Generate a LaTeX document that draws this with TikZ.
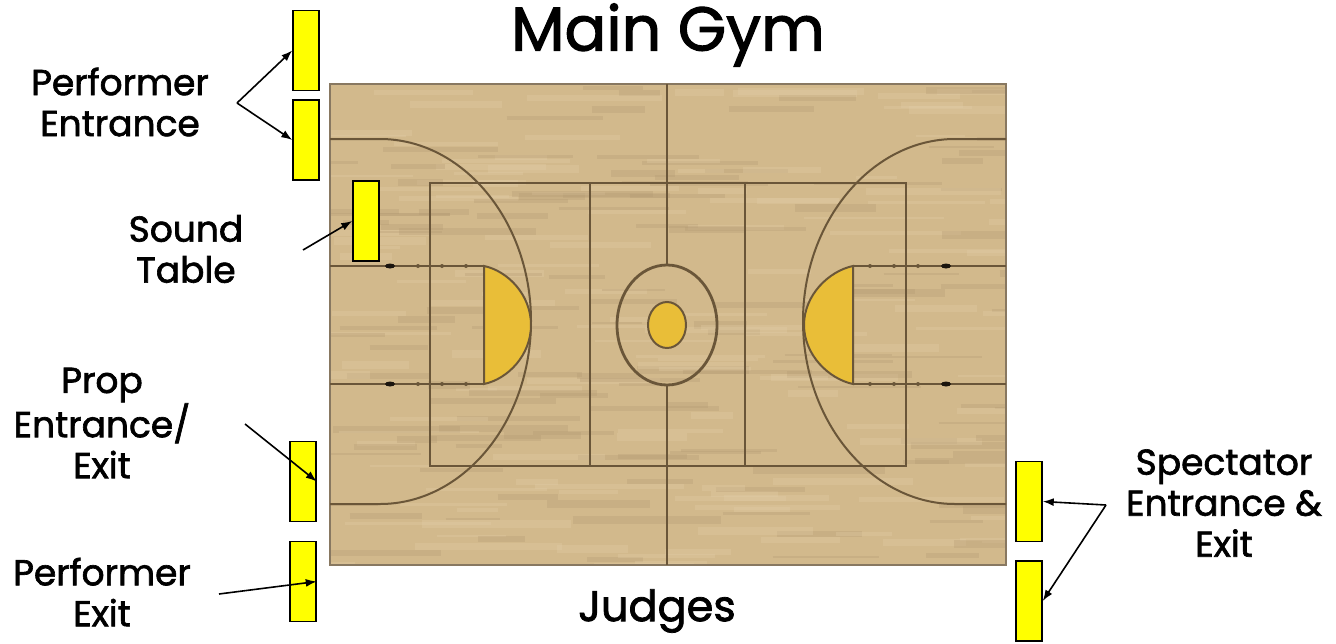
\documentclass[tikz,border=0pt]{standalone}
\usepackage{xcolor}
\usepackage{fontspec}
\setmainfont[FakeBold=1.8]{Poppins}
\usepackage{tikz}
\usetikzlibrary{positioning, arrows.meta, calc}

\definecolor{wood}{HTML}{D2B98C}
\definecolor{woodlight}{HTML}{E3CFA8}
\definecolor{wooddark}{HTML}{B39A72}
\definecolor{courtline}{HTML}{6A5639}
\definecolor{paint}{HTML}{E9BE38}
\definecolor{doorfill}{RGB}{255,255,0}

\begin{document}
\begin{tikzpicture}[>={Latex[length=11pt,width=8pt]}, x=1pt, y=-1pt,
  stagebox/.style={draw=black, line width=1.5pt, fill=doorfill, minimum width=26pt, minimum height=80pt, inner sep=0pt},
  lbl/.style={align=center, font=\fontsize{36}{41}\selectfont},
  court/.style={draw=courtline, line width=2pt},
  pointer/.style={->, line width=1.6pt, black}]
  \useasboundingbox (0,0) rectangle (1336,643);

  % floor
  \node[draw=courtline!80, line width=1.6pt, fill=wood, minimum width=676pt, minimum height=481pt, inner sep=0pt] (floor) at (668,324.5) {};
  \begin{scope}
    \clip (330,84) rectangle (1006,565);
    \pgfmathsetseed{11}
    \foreach \i in {1,...,260} {
      \pgfmathsetmacro{\sx}{300+rnd*700}
      \pgfmathsetmacro{\sy}{84+rnd*481}
      \pgfmathsetmacro{\sl}{40+rnd*110}
      \pgfmathsetmacro{\sw}{2+rnd*6}
      \pgfmathparse{rnd<0.5 ? "woodlight" : "wooddark"}
      \edef\scol{\pgfmathresult}
      \draw[\scol, line width=\sw pt, opacity=0.3] (\sx,\sy) -- ++(\sl,0);
    }
  \end{scope}
  \draw[draw=courtline!80, line width=1.6pt] (330,84) rectangle (1006,565);

  % court lines
  \draw[court] (667,84) -- (667,266) (667,384) -- (667,565);
  \draw[court] (430,183) rectangle (906,466);
  \draw[court] (590,183) -- (590,466);
  \draw[court] (745,183) -- (745,466);
  \draw[court] (330,139) -- (380,139) .. controls (463,139) and (531,221) .. (531,321) .. controls (531,422) and (463,504) .. (380,504) -- (330,504);
  \draw[court] (1006,139) -- (955,139) .. controls (872,139) and (803,221) .. (803,321) .. controls (803,422) and (872,504) .. (955,504) -- (1006,504);
  \draw[court] (330,266) -- (484,266) (330,384) -- (484,384);
  \draw[court] (1006,266) -- (853,266) (1006,384) -- (853,384);
  \draw[court, fill=paint] (484,266) .. controls (508,271) and (531,295) .. (531,325) .. controls (531,355) and (508,379) .. (484,384) -- cycle;
  \draw[court, fill=paint] (853,266) .. controls (829,271) and (804,295) .. (804,325) .. controls (804,355) and (829,379) .. (853,384) -- cycle;
  \draw[court, line width=2.8pt] (667,325) ellipse [x radius=50pt, y radius=60pt];
  \draw[court, fill=paint] (667,325) ellipse [x radius=19pt, y radius=23pt];
  \foreach \px in {390,946} \foreach \py in {266,384}
    \fill[black!75!courtline] (\px,\py) ellipse [x radius=5pt, y radius=2.5pt];
  \foreach \px in {418,442,466,870,894,918} \foreach \py in {266,384}
    \fill[courtline] (\px,\py) circle (2pt);

  % doors and tables
  \node[stagebox] (entryA) at (306,50.5) {};
  \node[stagebox] (entryB) at (306,140) {};
  \node[stagebox] (sound) at (366,221) {};
  \node[stagebox] (prop) at (303,481.5) {};
  \node[stagebox] (exitP) at (303,581.5) {};
  \node[stagebox] (specA) at (1029,501.5) {};
  \node[stagebox] (specB) at (1029,601) {};

  % labels
  \node[font=\fontsize{62}{70}\selectfont] (title) at (668,35) {Main Gym};
  \node[lbl, font=\fontsize{43}{50}\selectfont] (judges) at (657,611) {Judges};
  \node[lbl] (lblentry) at (120,102) {Performer\\Entrance};
  \node[lbl] (lblsound) at (186,249) {Sound\\Table};
  \node[lbl] (lblprop) at (102,423) {Prop\\Entrance/\\Exit};
  \node[lbl] (lblexit) at (102,592) {Performer\\Exit};
  \node[lbl] (lblspec) at (1224,503) {Spectator\\Entrance \&\\Exit};

  % pointers
  \coordinate (forkentry) at (237,103);
  \coordinate (fromsound) at (303,250);
  \coordinate (fromprop) at (245,424);
  \coordinate (fromexit) at (219,594);
  \coordinate (forkspec) at (1106,505);
  \draw[pointer] (forkentry) -- (entryA.west);
  \draw[pointer] (forkentry) -- (entryB.west);
  \draw[pointer] (fromsound) -- (sound.west);
  \draw[pointer] (fromprop) -- (prop.east);
  \draw[pointer] (fromexit) -- (exitP.east);
  \draw[pointer] (forkspec) -- (specA.east);
  \draw[pointer] (forkspec) -- (specB.east);
\end{tikzpicture}
\end{document}
